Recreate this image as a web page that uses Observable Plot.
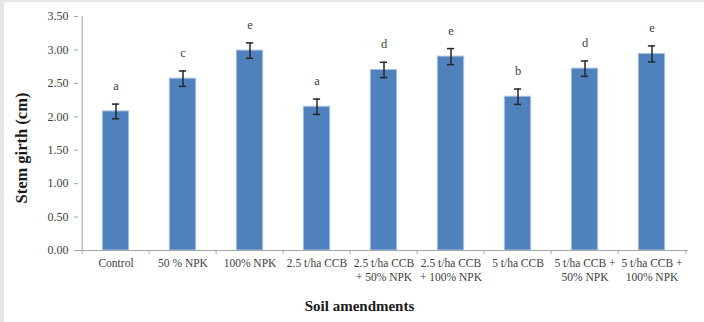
<!DOCTYPE html>
<html>
<head>
<meta charset="utf-8">
<script src="https://cdn.jsdelivr.net/npm/d3@7"></script>
<script src="https://cdn.jsdelivr.net/npm/@observablehq/plot@0.6"></script>
<style>
  html, body { margin: 0; padding: 0; background: #fff; }
  #wrap { width: 700px; height: 320px; border-left: 4px solid #e6e6e8; border-top: 2px solid #e6e6e8; background: #fff; }
  svg { font-family: "Liberation Serif", "DejaVu Serif", serif; }
</style>
</head>
<body>
<div id="wrap"></div>
<script>
const categories = [
  "Control", "50 % NPK", "100% NPK", "2.5 t/ha CCB",
  "2.5 t/ha CCB\n+ 50% NPK", "2.5 t/ha CCB\n+ 100% NPK",
  "5 t/ha CCB", "5 t/ha CCB +\n50% NPK", "5 t/ha CCB +\n100% NPK"
];
const girth = [2.08, 2.57, 2.99, 2.15, 2.70, 2.90, 2.30, 2.72, 2.94];
const errors = [0.11, 0.115, 0.115, 0.115, 0.115, 0.12, 0.115, 0.115, 0.12];
const letters = ["a", "c", "e", "a", "d", "e", "b", "d", "e"];
const yTicks = [0, 0.5, 1, 1.5, 2, 2.5, 3, 3.5];
const yTitle = "Stem girth (cm)";
const xTitle = "Soil amendments";

const data = categories.map((c, i) => ({
  cat: c, mean: girth[i], lo: girth[i] - errors[i], hi: girth[i] + errors[i], letter: letters[i]
}));

const W = 700, H = 320, mL = 74, mR = 16, mT = 14, mB = 72;
const bw = (W - mL - mR) / categories.length;
const axisColor = "#a6a6a6";
const textColor = "#404040";
const first = categories[0], last = categories[categories.length - 1];

const chart = Plot.plot({
  width: W, height: H,
  marginLeft: mL, marginRight: mR, marginTop: mT, marginBottom: mB,
  style: { fontFamily: "'Liberation Serif', 'DejaVu Serif', serif", fontSize: "12px", color: textColor, background: "#fff" },
  x: { domain: categories, padding: 0, axis: null },
  y: { domain: [0, 3.5], axis: null },
  marks: [
    Plot.barY(data, { x: "cat", y: "mean", fill: "#4f81bd", stroke: "#a9c1df", strokeWidth: 1, insetLeft: bw * 0.3, insetRight: bw * 0.3 }),
    Plot.ruleX(data, { x: "cat", y1: "lo", y2: "hi", stroke: "#262626", strokeWidth: 1.5 }),
    Plot.tickY(data, { x: "cat", y: "lo", stroke: "#262626", strokeWidth: 1.5, insetLeft: bw / 2 - 4, insetRight: bw / 2 - 4 }),
    Plot.tickY(data, { x: "cat", y: "hi", stroke: "#262626", strokeWidth: 1.5, insetLeft: bw / 2 - 4, insetRight: bw / 2 - 4 }),
    Plot.text(data, { x: "cat", y: "hi", text: "letter", lineAnchor: "bottom", dy: -14, fontSize: 12.5, fill: textColor }),
    Plot.ruleY([0], { stroke: axisColor, strokeWidth: 1 }),
    Plot.ruleX(categories, { x: d => d, dx: -bw / 2, y1: 0, y2: 0, insetBottom: -4, stroke: axisColor }),
    Plot.ruleX([last], { x: d => d, dx: bw / 2, y1: 0, y2: 0, insetBottom: -4, stroke: axisColor }),
    Plot.ruleX([first], { x: d => d, dx: -bw / 2, y1: 0, y2: 3.5, stroke: axisColor }),
    Plot.axisY({ ticks: yTicks, tickFormat: d => d.toFixed(2), tickSize: 4, tickPadding: 6, stroke: axisColor, fill: textColor, fontSize: 12, label: null }),
    Plot.text(categories, { x: d => d, y: 0, text: d => d, lineAnchor: "top", dy: 7, lineHeight: 1.2, fill: textColor, fontSize: 11.5 }),
    Plot.text([yTitle], { frameAnchor: "left", text: d => d, rotate: -90, dx: -57, dy: 70, fontWeight: "bold", fontSize: 16.5, fill: "#1a1a1a" }),
    Plot.text([xTitle], { frameAnchor: "bottom", text: d => d, dx: -24, dy: 60, fontWeight: "bold", fontSize: 15, fill: "#1a1a1a" })
  ]
});
document.getElementById("wrap").appendChild(chart);
</script>
</body>
</html>
